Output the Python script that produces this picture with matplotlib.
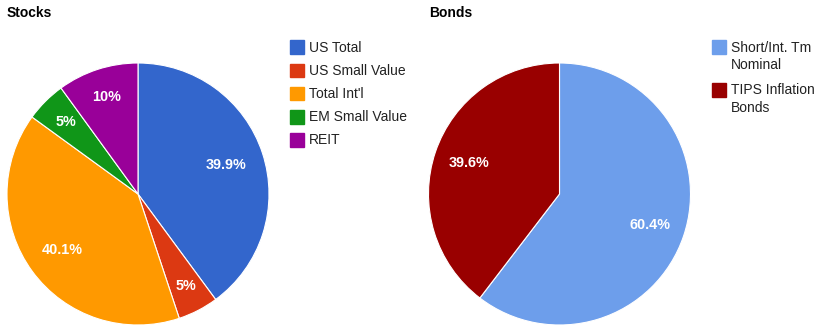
import numpy as np
import matplotlib
matplotlib.use("Agg")
import matplotlib.pyplot as plt
from matplotlib.patches import Rectangle

plt.rcParams["font.family"] = ["Liberation Sans", "DejaVu Sans"]

# data
stock_labels = ["US Total", "US Small Value", "Total Int'l", "EM Small Value", "REIT"]
stock_values = [39.9, 5, 40.1, 5, 10]
stock_colors = ["#3366cc", "#dc3912", "#ff9900", "#109618", "#990099"]

bond_labels = ["Short/Int. Tm\nNominal", "TIPS Inflation\nBonds"]
bond_values = [60.4, 39.6]
bond_colors = ["#6d9eeb", "#990000"]

# layout (pixels)
W, H = 820, 333
STOCK_LABEL_R = [0.71, 0.79, 0.72, 0.78, 0.78]
BOND_LABEL_R = [0.73, 0.73]


def px_axes(fig, cx, cy, r):
    return fig.add_axes([(cx - r) / W, (H - cy - r) / H, 2 * r / W, 2 * r / H])


def draw_pie(ax, values, colors, label_r):
    wedges, _ = ax.pie(values, colors=colors, startangle=90, counterclock=False,
                       radius=1.0, wedgeprops=dict(edgecolor="white", linewidth=0.8))
    for w, v, lr in zip(wedges, values, label_r):
        ang = np.deg2rad((w.theta1 + w.theta2) / 2)
        ax.text(lr * np.cos(ang), lr * np.sin(ang), f"{v:g}%", color="white",
                fontsize=10.4, fontweight="bold", ha="center", va="center")
    ax.set_xlim(-1, 1)
    ax.set_ylim(-1, 1)
    ax.set_aspect("auto")
    ax.axis("off")


def draw_legend(fig, x, y_top, labels, colors):
    y = y_top
    for lab, col in zip(labels, colors):
        fig.patches.append(Rectangle((x / W, (H - y - 13.5) / H), 14 / W, 13.5 / H,
                                     transform=fig.transFigure, color=col))
        fig.text((x + 19) / W, 1 - y / H, lab, fontsize=10, color="#222222",
                 ha="left", va="top", linespacing=1.32)
        n = lab.count("\n")
        y += 23.2 + 19.4 * n


fig = plt.figure(figsize=(W / 100, H / 100), dpi=100)

ax1 = px_axes(fig, 138, 194, 131)
draw_pie(ax1, stock_values, stock_colors, STOCK_LABEL_R)
ax2 = px_axes(fig, 559.5, 194, 131)
draw_pie(ax2, bond_values, bond_colors, BOND_LABEL_R)

fig.text(7 / W, 1 - 17 / H, "Stocks", fontsize=10, fontweight="bold", va="baseline")
fig.text(429 / W, 1 - 17 / H, "Bonds", fontsize=10, fontweight="bold", va="baseline")

draw_legend(fig, 290, 40.5, stock_labels, stock_colors)
draw_legend(fig, 712, 40.5, bond_labels, bond_colors)

fig.savefig("out.png", dpi=100)
